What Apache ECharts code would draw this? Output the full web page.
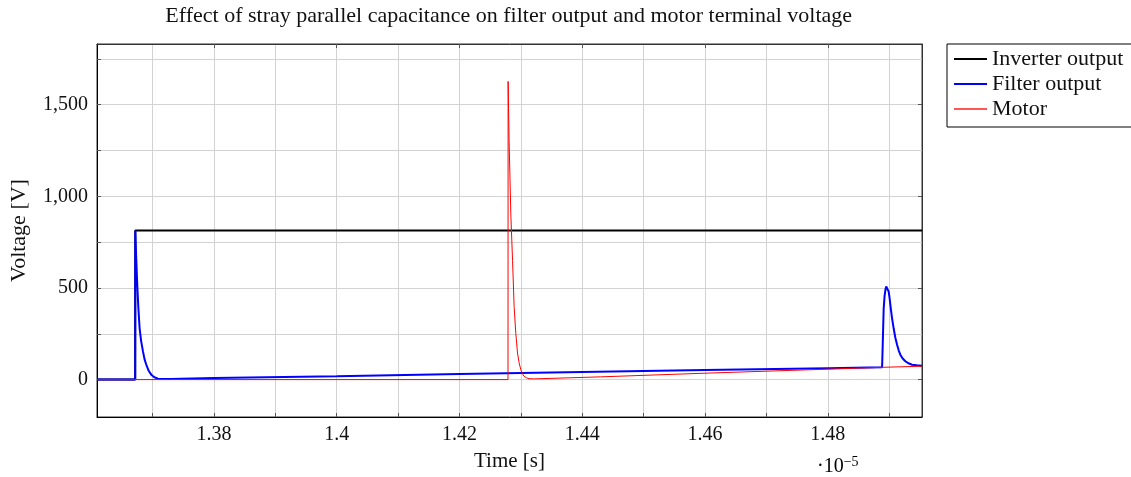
<!DOCTYPE html>
<html>
<head>
<meta charset="utf-8">
<script src="https://cdn.jsdelivr.net/npm/echarts@6/dist/echarts.min.js"></script>
<style>
  html, body { margin: 0; padding: 0; background: #fff; }
  #chart { width: 1131px; height: 477px; }
</style>
</head>
<body>
<div id="chart"></div>
<script>
// time in units of 1e-5 s
const xMin = 1.36096, xMax = 1.49535;
const yMin = -204, yMax = 1831;
const xTickValues = [1.37, 1.38, 1.39, 1.40, 1.41, 1.42, 1.43, 1.44, 1.45, 1.46, 1.47, 1.48, 1.49];
const xLabelValues = [1.38, 1.40, 1.42, 1.44, 1.46, 1.48];
const yTickValues = [0, 250, 500, 750, 1000, 1250, 1500, 1750];
const yLabelValues = [0, 500, 1000, 1500];
const seriesNames = ['Inverter output', 'Filter output', 'Motor'];

const inverterOutput = [
  [1.36096, 0], [1.36718, 0], [1.36720, 813], [1.49535, 813]
];
const filterOutput = [
  [1.36096, 0], [1.36718, 0], [1.36720, 813], [1.36735, 660], [1.36752, 515],
  [1.36770, 390], [1.36790, 280], [1.36815, 210], [1.36845, 154], [1.36870, 112],
  [1.36899, 81], [1.36935, 50], [1.36980, 27], [1.37030, 13], [1.37089, 5],
  [1.3730, 4], [1.38, 9], [1.40, 19], [1.42, 30], [1.44, 41], [1.46, 52], [1.48, 62],
  [1.48885, 67], [1.48900, 250], [1.48911, 389], [1.48925, 455], [1.48939, 490],
  [1.48952, 508], [1.48966, 515], [1.48980, 503], [1.48992, 480], [1.49006, 447],
  [1.49020, 407], [1.49045, 340], [1.49073, 280], [1.49100, 230], [1.49129, 190],
  [1.49155, 160], [1.49182, 136], [1.49220, 115], [1.49264, 100], [1.49315, 89],
  [1.49373, 81], [1.49450, 78], [1.49535, 76]
];
const motor = [
  [1.36096, 0], [1.42791, 0], [1.42793, 1627], [1.42809, 1302], [1.42837, 904],
  [1.42865, 651], [1.42891, 398], [1.42918, 253], [1.42946, 145], [1.42972, 92],
  [1.43000, 54], [1.43025, 33], [1.43053, 18], [1.43090, 10], [1.43135, 5],
  [1.43216, 4], [1.44301, 15], [1.46, 35], [1.48, 57], [1.48885, 67], [1.49535, 73]
];

const font = 'Liberation Serif';
const chart = echarts.init(document.getElementById('chart'));

const gridLine = { show: true, lineStyle: { color: '#d2d2d2', width: 1 } };
const tickStyle = { inside: true, length: 4, lineStyle: { color: '#555' } };

chart.setOption({
  animation: false,
  grid: { left: 96, top: 44, width: 826, height: 375, show: true, borderColor: '#333', borderWidth: 1 },
  legend: {
    orient: 'vertical',
    left: 947,
    top: 44,
    padding: [4, 40, 7, 7],
    icon: 'rect',
    itemWidth: 33,
    itemHeight: 2,
    itemGap: 3,
    borderColor: '#000',
    borderWidth: 1,
    data: seriesNames,
    textStyle: { fontFamily: font, fontSize: 22, color: '#111', lineHeight: 22 }
  },
  graphic: [
    {
      type: 'text', x: 508.7, y: 16,
      style: {
        text: 'Effect of stray parallel capacitance on filter output and motor terminal voltage',
        font: '22px "Liberation Serif"', fill: '#111', textAlign: 'center', textVerticalAlign: 'middle'
      }
    },
    {
      type: 'text', x: 817, y: 455,
      style: {
        text: '{a|·10}{b|−5}',
        rich: {
          a: { fontFamily: font, fontSize: 20, color: '#111' },
          b: { fontFamily: font, fontSize: 14, color: '#111', padding: [0, 0, 10, 0] }
        }
      }
    }
  ],
  xAxis: [
    {
      type: 'value', min: xMin, max: xMax, position: 'bottom',
      name: 'Time [s]', nameLocation: 'middle', nameGap: 34,
      nameTextStyle: { fontFamily: font, fontSize: 21, color: '#111' },
      axisLine: { show: true, onZero: false, lineStyle: { color: '#000', width: 1 } },
      axisTick: Object.assign({ customValues: xTickValues }, tickStyle),
      axisLabel: {
        customValues: xLabelValues, margin: 8,
        fontFamily: font, fontSize: 20, color: '#111',
        formatter: v => String(+v.toFixed(2))
      },
      splitLine: gridLine
    },
    {
      type: 'value', min: xMin, max: xMax, position: 'top',
      axisLine: { show: true, onZero: false, lineStyle: { color: '#333', width: 1 } },
      axisTick: Object.assign({ customValues: xLabelValues }, tickStyle),
      axisLabel: { show: false },
      splitLine: { show: false }
    }
  ],
  yAxis: [
    {
      type: 'value', min: yMin, max: yMax, position: 'left',
      name: 'Voltage [V]', nameLocation: 'middle', nameGap: 67,
      nameTextStyle: { fontFamily: font, fontSize: 22, color: '#111' },
      axisLine: { show: true, onZero: false, lineStyle: { color: '#000', width: 1 } },
      axisTick: Object.assign({ customValues: yTickValues }, tickStyle),
      axisLabel: {
        customValues: yLabelValues, margin: 9,
        fontFamily: font, fontSize: 20, color: '#111',
        formatter: v => v.toLocaleString('en-US')
      },
      splitLine: gridLine
    },
    {
      type: 'value', min: yMin, max: yMax, position: 'right',
      axisLine: { show: true, onZero: false, lineStyle: { color: '#333', width: 1 } },
      axisTick: Object.assign({ customValues: yLabelValues }, tickStyle),
      axisLabel: { show: false },
      splitLine: { show: false }
    }
  ],
  series: [
    {
      name: seriesNames[0], type: 'line', data: inverterOutput, symbol: 'none',
      lineStyle: { color: '#000', width: 2 }, itemStyle: { color: '#000' }
    },
    {
      name: seriesNames[1], type: 'line', data: filterOutput, symbol: 'none', smooth: false,
      lineStyle: { color: '#0000ff', width: 2 }, itemStyle: { color: '#0000ff' }
    },
    {
      name: seriesNames[2], type: 'line', data: motor, symbol: 'none',
      lineStyle: { color: '#ff0000', width: 1 }, itemStyle: { color: '#ff5555' }
    }
  ]
});
</script>
</body>
</html>
